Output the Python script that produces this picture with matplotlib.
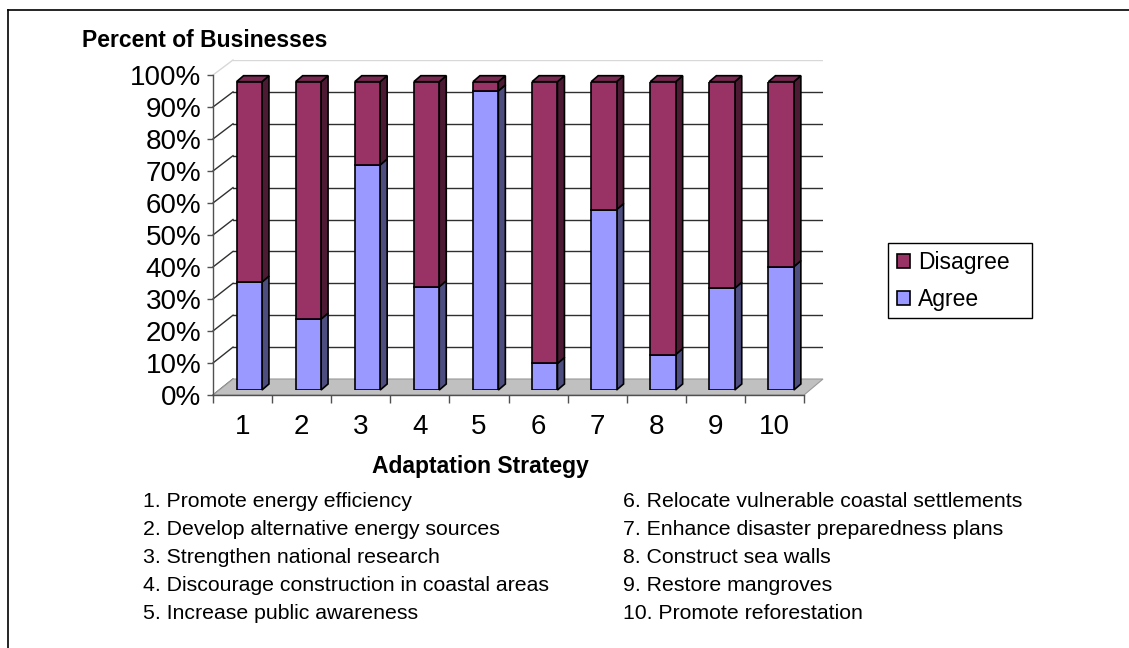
import matplotlib
matplotlib.use('Agg')
import matplotlib.pyplot as plt
from matplotlib.patches import Polygon, Patch, Rectangle
from matplotlib.lines import Line2D

plt.rcParams['font.family'] = ['Liberation Sans', 'DejaVu Sans']

# data (percent of businesses)
strategies = ['1', '2', '3', '4', '5', '6', '7', '8', '9', '10']
agree = [35, 23, 73, 33.5, 97, 8.6, 58.5, 11.5, 33, 40]
disagree = [100 - a for a in agree]
strategy_names = [
    '1. Promote energy efficiency',
    '2. Develop alternative energy sources',
    '3. Strengthen national research',
    '4. Discourage construction in coastal areas',
    '5. Increase public awareness',
    '6. Relocate vulnerable coastal settlements',
    '7. Enhance disaster preparedness plans',
    '8. Construct sea walls',
    '9. Restore mangroves',
    '10. Promote reforestation',
]
y_ticks = [0, 10, 20, 30, 40, 50, 60, 70, 80, 90, 100]

agree_col = '#9999ff'
agree_side = '#4d4d80'
dis_col = '#993366'
dis_side = '#4d1a33'
dis_top = '#7a2952'

W, H = 1129, 648
fig = plt.figure(figsize=(W / 100, H / 100), dpi=100)


def fbox(l, t, r, b):
    return [l / W, 1 - b / H, (r - l) / W, (b - t) / H]


def to_fig(ax, x, y):
    return fig.transFigure.inverted().transform(ax.transData.transform((x, y)))


n = len(strategies)
xs = list(range(1, n + 1))

# back wall
ax_wall = fig.add_axes(fbox(233, 60, 823, 379))
ax_wall.set_zorder(0)
ax_wall.set_xlim(0, 1)
ax_wall.set_ylim(0, 100)
ax_wall.axis('off')
for v in y_ticks[1:-1]:
    ax_wall.axhline(v, color='#303030', lw=1.0)
ax_wall.axhline(100, color='#d8d8d8', lw=1.0)

# front axis
ax = fig.add_axes(fbox(213, 75, 804, 395))
ax.set_zorder(2)
ax.patch.set_alpha(0)
ax.set_xlim(0.5, n + 0.5)
ax.set_ylim(0, 100)
for s in ['top', 'right']:
    ax.spines[s].set_visible(False)
for s in ['left', 'bottom']:
    ax.spines[s].set_color('#505050')
    ax.spines[s].set_linewidth(1.0)
ax.set_yticks(y_ticks)
ax.set_yticklabels([f'{v}%' for v in y_ticks], fontsize=20)
ax.set_xticks(xs)
ax.set_xticklabels(strategies, fontsize=20)
ax.set_xticks([x + 0.5 for x in range(0, n + 1)], minor=True)
ax.tick_params(axis='y', length=4, width=1, color='#505050', pad=4.5)
ax.tick_params(axis='x', which='major', length=0, pad=14)
ax.tick_params(axis='x', which='minor', length=6, width=1, color='#505050')

# diagonal grid ties from front axis to back wall
for v in y_ticks:
    p1 = to_fig(ax, 0.5, v)
    p2 = to_fig(ax_wall, 0, v)
    c = '#d8d8d8' if v == 100 else ('#505050' if v == 0 else '#303030')
    fig.add_artist(Line2D([p1[0], p2[0]], [p1[1], p2[1]], transform=fig.transFigure,
                          color=c, lw=1.0, zorder=0.4))

# floor
f1 = to_fig(ax, 0.5, 0)
f2 = to_fig(ax, n + 0.5, 0)
f3 = to_fig(ax_wall, 1, 0)
f4 = to_fig(ax_wall, 0, 0)
fig.add_artist(Polygon([f1, f2, f3, f4], closed=True, transform=fig.transFigure,
                       facecolor='#c0c0c0', edgecolor='#9a9a9a', lw=0.8, zorder=0.5))

# bars
ax_bar = fig.add_axes(fbox(219.7, 81.7, 810.7, 390))
ax_bar.set_zorder(1)
ax_bar.patch.set_alpha(0)
ax_bar.set_xlim(0.5, n + 0.5)
ax_bar.set_ylim(0, 100)
ax_bar.axis('off')

bw = 0.43
ddx = 7 / 59.1
ddy = 6 / 308.3 * 100
ax_bar.bar(xs, agree, width=bw, color=agree_col, edgecolor='black', lw=1.2, zorder=3)
ax_bar.bar(xs, disagree, width=bw, bottom=agree, color=dis_col, edgecolor='black', lw=1.2, zorder=3)
for x, a in zip(xs, agree):
    xl = x - bw / 2
    xr = x + bw / 2
    ax_bar.add_patch(Polygon([(xr, 0), (xr + ddx, ddy), (xr + ddx, a + ddy), (xr, a)],
                             facecolor=agree_side, edgecolor='black', lw=1.2, zorder=2, clip_on=False))
    ax_bar.add_patch(Polygon([(xr, a), (xr + ddx, a + ddy), (xr + ddx, 100 + ddy), (xr, 100)],
                             facecolor=dis_side, edgecolor='black', lw=1.2, zorder=2, clip_on=False))
    ax_bar.add_patch(Polygon([(xl, 100), (xl + ddx, 100 + ddy), (xr + ddx, 100 + ddy), (xr, 100)],
                             facecolor=dis_top, edgecolor='black', lw=1.2, zorder=2, clip_on=False))

# titles
fig.text(82 / W, 1 - 46.7 / H, 'Percent of Businesses', fontsize=16.5, fontweight='bold',
         ha='left', va='baseline')
fig.text(480 / W, 1 - 473 / H, 'Adaptation Strategy', fontsize=16.5, fontweight='bold',
         ha='center', va='baseline')

# legend
handles = [Patch(facecolor=dis_col, edgecolor='black', lw=1.2),
           Patch(facecolor=agree_col, edgecolor='black', lw=1.2)]
leg = fig.legend(handles, ['Disagree', 'Agree'], loc='upper left',
                 bbox_to_anchor=(897 / W, 1 - 251 / H), fontsize=16.5, frameon=False,
                 handlelength=0.57, handleheight=0.57, handletextpad=0.35,
                 labelspacing=0.6, borderpad=0, borderaxespad=0)
fig.add_artist(Rectangle((888 / W, 1 - 318 / H), 144 / W, 75 / H, transform=fig.transFigure,
                         facecolor='none', edgecolor='black', lw=1.0, zorder=4))

# strategy key, two columns
for i, name in enumerate(strategy_names):
    col = i // 5
    row = i % 5
    x0 = 143 if col == 0 else 623
    fig.text(x0 / W, 1 - (506.7 + 28 * row) / H, name, fontsize=15.3, ha='left', va='baseline')

# chart border (top and left edges visible)
fig.add_artist(Line2D([7.5 / W, 1], [1 - 9.5 / H, 1 - 9.5 / H], transform=fig.transFigure,
                      color='black', lw=1.2))
fig.add_artist(Line2D([7.5 / W, 7.5 / W], [0, 1 - 9.5 / H], transform=fig.transFigure,
                      color='black', lw=1.2))

fig.savefig('out.png', dpi=100)
